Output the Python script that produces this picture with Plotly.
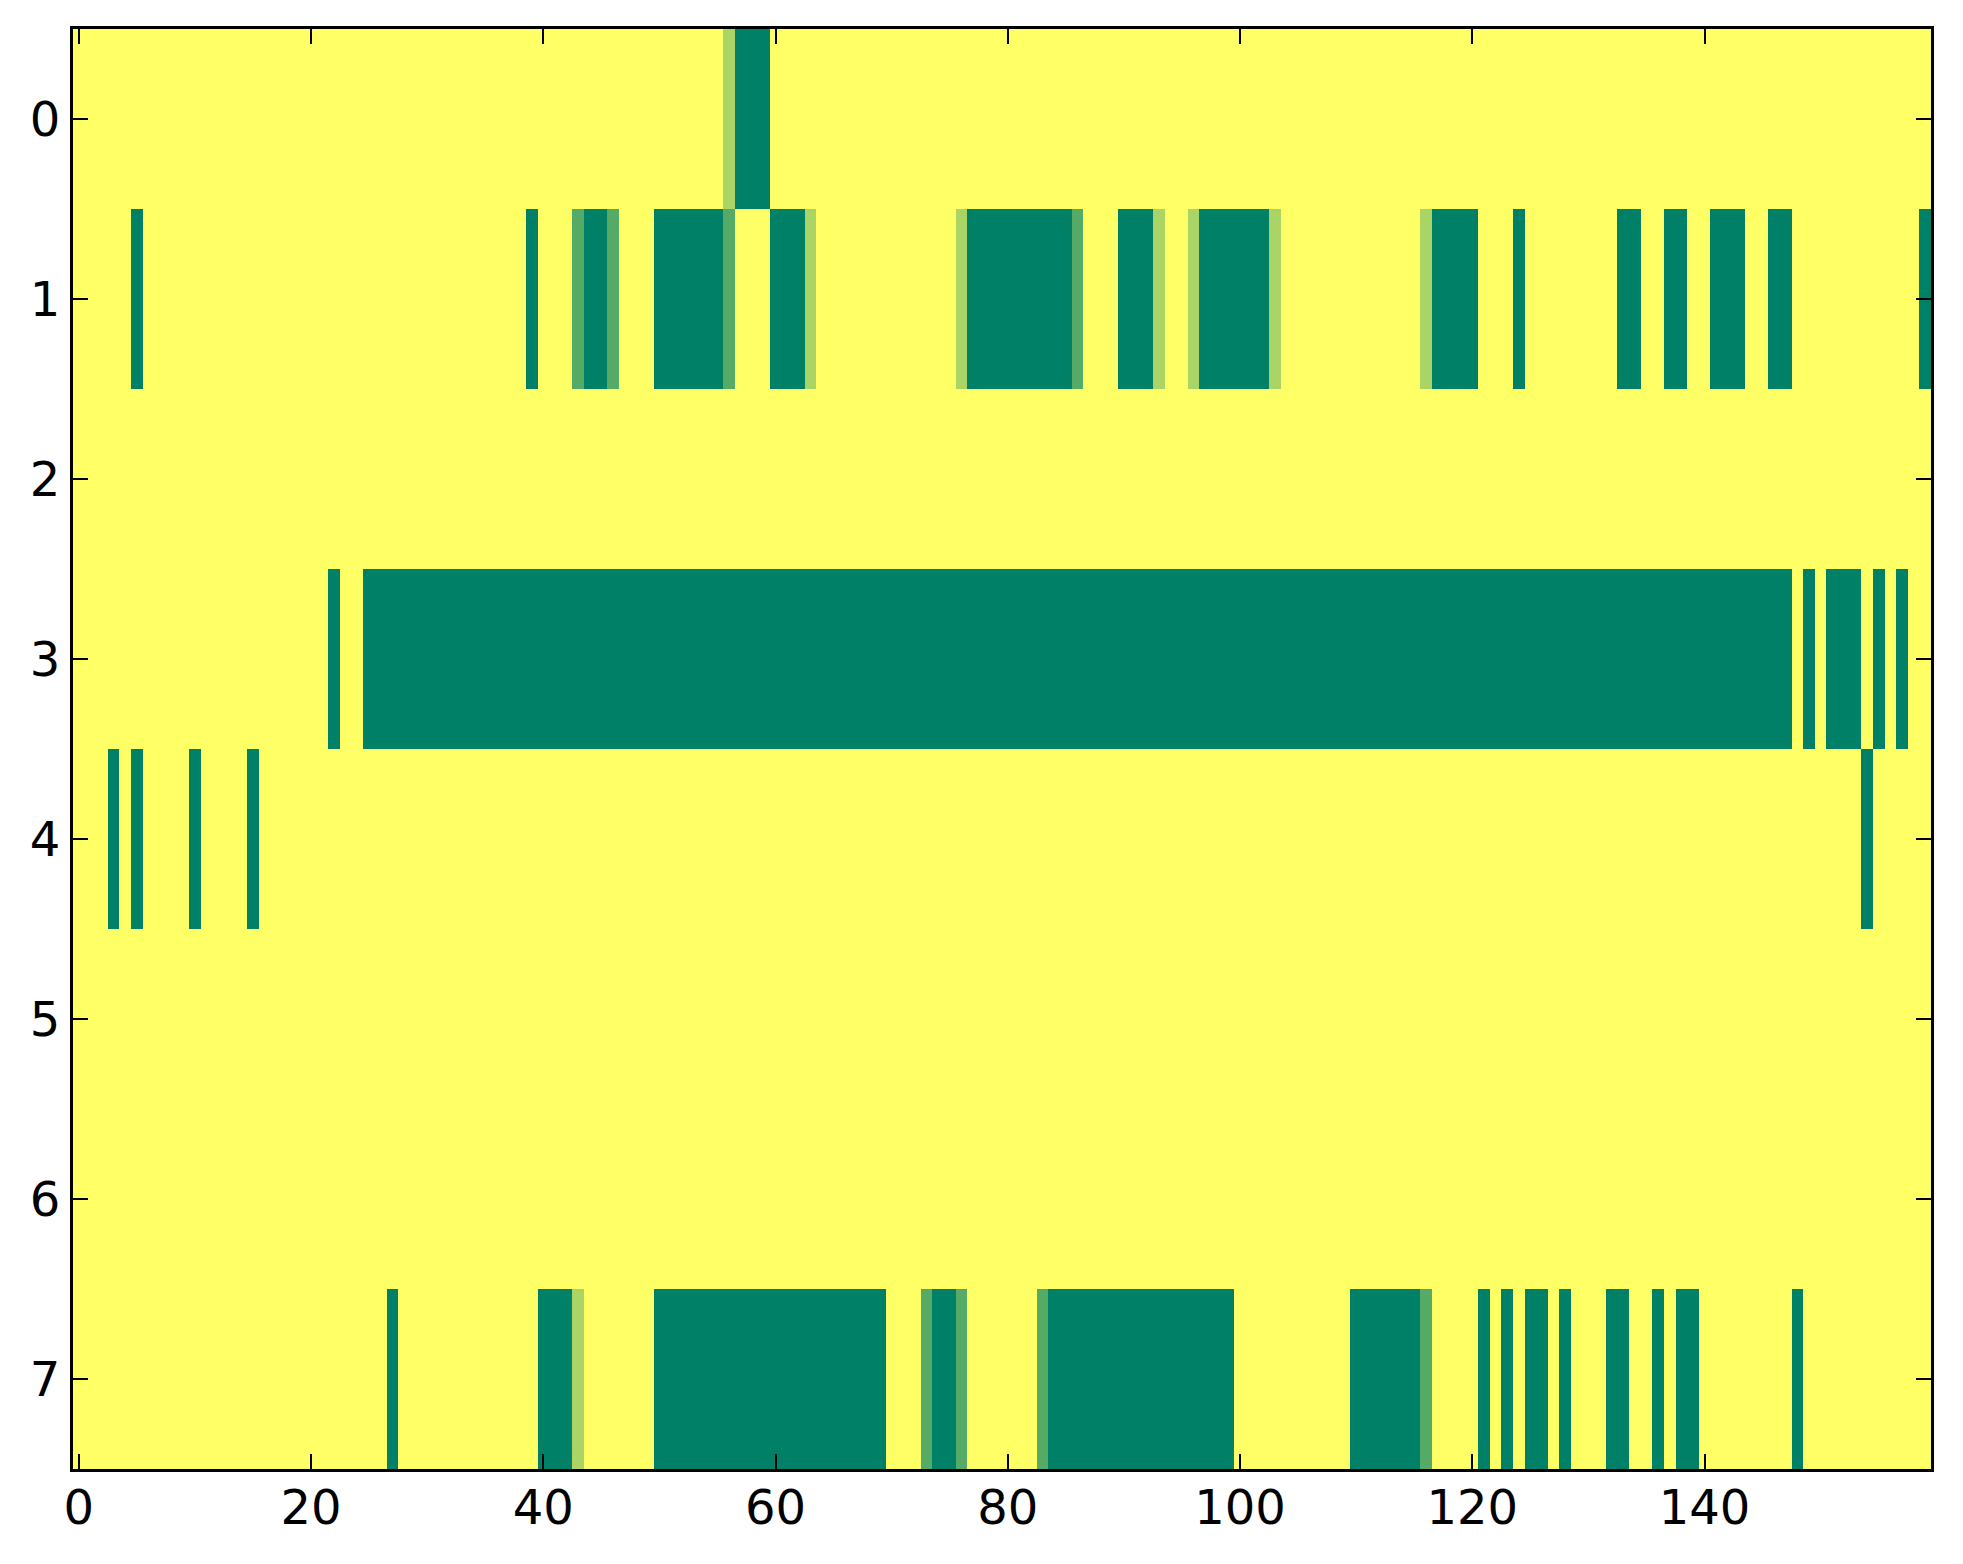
import plotly.graph_objects as go

# Column indices 0..159, row indices 0..7
x_vals = list(range(160))
y_vals = list(range(8))
x_ticks = [0, 20, 40, 60, 80, 100, 120, 140]
y_ticks = [0, 1, 2, 3, 4, 5, 6, 7]

# cell values: 3 = yellow, 2 = light green, 1 = medium green, 0 = dark green
row0 = [3, 3, 3, 3, 3, 3, 3, 3, 3, 3, 3, 3, 3, 3, 3, 3, 3, 3, 3, 3,
        3, 3, 3, 3, 3, 3, 3, 3, 3, 3, 3, 3, 3, 3, 3, 3, 3, 3, 3, 3,
        3, 3, 3, 3, 3, 3, 3, 3, 3, 3, 3, 3, 3, 3, 3, 3, 2, 0, 0, 0,
        3, 3, 3, 3, 3, 3, 3, 3, 3, 3, 3, 3, 3, 3, 3, 3, 3, 3, 3, 3,
        3, 3, 3, 3, 3, 3, 3, 3, 3, 3, 3, 3, 3, 3, 3, 3, 3, 3, 3, 3,
        3, 3, 3, 3, 3, 3, 3, 3, 3, 3, 3, 3, 3, 3, 3, 3, 3, 3, 3, 3,
        3, 3, 3, 3, 3, 3, 3, 3, 3, 3, 3, 3, 3, 3, 3, 3, 3, 3, 3, 3,
        3, 3, 3, 3, 3, 3, 3, 3, 3, 3, 3, 3, 3, 3, 3, 3, 3, 3, 3, 3]

row1 = [3, 3, 3, 3, 3, 0, 3, 3, 3, 3, 3, 3, 3, 3, 3, 3, 3, 3, 3, 3,
        3, 3, 3, 3, 3, 3, 3, 3, 3, 3, 3, 3, 3, 3, 3, 3, 3, 3, 3, 0,
        3, 3, 3, 1, 0, 0, 1, 3, 3, 3, 0, 0, 0, 0, 0, 0, 1, 3, 3, 3,
        0, 0, 0, 2, 3, 3, 3, 3, 3, 3, 3, 3, 3, 3, 3, 3, 2, 0, 0, 0,
        0, 0, 0, 0, 0, 0, 1, 3, 3, 3, 0, 0, 0, 2, 3, 3, 2, 0, 0, 0,
        0, 0, 0, 2, 3, 3, 3, 3, 3, 3, 3, 3, 3, 3, 3, 3, 2, 0, 0, 0,
        0, 3, 3, 3, 0, 3, 3, 3, 3, 3, 3, 3, 3, 0, 0, 3, 3, 0, 0, 3,
        3, 0, 0, 0, 3, 3, 0, 0, 3, 3, 3, 3, 3, 3, 3, 3, 3, 3, 3, 0]

row2 = [3] * 160

row3 = [3, 3, 3, 3, 3, 3, 3, 3, 3, 3, 3, 3, 3, 3, 3, 3, 3, 3, 3, 3,
        3, 3, 0, 3, 3, 0, 0, 0, 0, 0, 0, 0, 0, 0, 0, 0, 0, 0, 0, 0,
        0, 0, 0, 0, 0, 0, 0, 0, 0, 0, 0, 0, 0, 0, 0, 0, 0, 0, 0, 0,
        0, 0, 0, 0, 0, 0, 0, 0, 0, 0, 0, 0, 0, 0, 0, 0, 0, 0, 0, 0,
        0, 0, 0, 0, 0, 0, 0, 0, 0, 0, 0, 0, 0, 0, 0, 0, 0, 0, 0, 0,
        0, 0, 0, 0, 0, 0, 0, 0, 0, 0, 0, 0, 0, 0, 0, 0, 0, 0, 0, 0,
        0, 0, 0, 0, 0, 0, 0, 0, 0, 0, 0, 0, 0, 0, 0, 0, 0, 0, 0, 0,
        0, 0, 0, 0, 0, 0, 0, 0, 3, 0, 3, 0, 0, 0, 3, 0, 3, 0, 3, 3]

row4 = [3, 3, 3, 0, 3, 0, 3, 3, 3, 3, 0, 3, 3, 3, 3, 0, 3, 3, 3, 3,
        3, 3, 3, 3, 3, 3, 3, 3, 3, 3, 3, 3, 3, 3, 3, 3, 3, 3, 3, 3,
        3, 3, 3, 3, 3, 3, 3, 3, 3, 3, 3, 3, 3, 3, 3, 3, 3, 3, 3, 3,
        3, 3, 3, 3, 3, 3, 3, 3, 3, 3, 3, 3, 3, 3, 3, 3, 3, 3, 3, 3,
        3, 3, 3, 3, 3, 3, 3, 3, 3, 3, 3, 3, 3, 3, 3, 3, 3, 3, 3, 3,
        3, 3, 3, 3, 3, 3, 3, 3, 3, 3, 3, 3, 3, 3, 3, 3, 3, 3, 3, 3,
        3, 3, 3, 3, 3, 3, 3, 3, 3, 3, 3, 3, 3, 3, 3, 3, 3, 3, 3, 3,
        3, 3, 3, 3, 3, 3, 3, 3, 3, 3, 3, 3, 3, 3, 0, 3, 3, 3, 3, 3]

row5 = [3] * 160
row6 = [3] * 160

row7 = [3, 3, 3, 3, 3, 3, 3, 3, 3, 3, 3, 3, 3, 3, 3, 3, 3, 3, 3, 3,
        3, 3, 3, 3, 3, 3, 3, 0, 3, 3, 3, 3, 3, 3, 3, 3, 3, 3, 3, 3,
        0, 0, 0, 2, 3, 3, 3, 3, 3, 3, 0, 0, 0, 0, 0, 0, 0, 0, 0, 0,
        0, 0, 0, 0, 0, 0, 0, 0, 0, 0, 3, 3, 3, 1, 0, 0, 1, 3, 3, 3,
        3, 3, 3, 1, 0, 0, 0, 0, 0, 0, 0, 0, 0, 0, 0, 0, 0, 0, 0, 0,
        3, 3, 3, 3, 3, 3, 3, 3, 3, 3, 0, 0, 0, 0, 0, 0, 1, 3, 3, 3,
        3, 0, 3, 0, 3, 0, 0, 3, 0, 3, 3, 3, 0, 0, 3, 3, 0, 3, 0, 0,
        3, 3, 3, 3, 3, 3, 3, 3, 0, 3, 3, 3, 3, 3, 3, 3, 3, 3, 3, 3]

z = [row0, row1, row2, row3, row4, row5, row6, row7]

# matplotlib "summer" colormap endpoints
summer = [[0.0, "rgb(0,128,102)"], [1.0, "rgb(255,255,102)"]]

fig = go.Figure(go.Heatmap(
    z=z, x=x_vals, y=y_vals,
    colorscale=summer, zmin=0, zmax=3,
    showscale=False, hoverinfo="skip",
))

axis_font = dict(family="DejaVu Sans", size=48, color="black")
common = dict(
    showline=True, linecolor="black", linewidth=3,
    mirror="allticks", ticks="inside", ticklen=15, tickwidth=1.5,
    tickcolor="black", showgrid=False, zeroline=False,
    tickfont=axis_font, automargin=False,
)

fig.update_xaxes(range=[-0.5, 159.5], tickvals=x_ticks,
                 ticktext=[str(v) for v in x_ticks],
                 ticklabelstandoff=-6, **common)
fig.update_yaxes(range=[7.5, -0.5], tickvals=y_ticks,
                 ticktext=[str(v) for v in y_ticks],
                 ticklabelstandoff=0, **common)

# page body has an 8px default margin; figure sized to fit the window
fig.update_layout(
    width=1947, height=1548,
    margin=dict(l=65, r=24, t=21, b=87),
    paper_bgcolor="white", plot_bgcolor="white",
)

fig.write_html("out.html")
